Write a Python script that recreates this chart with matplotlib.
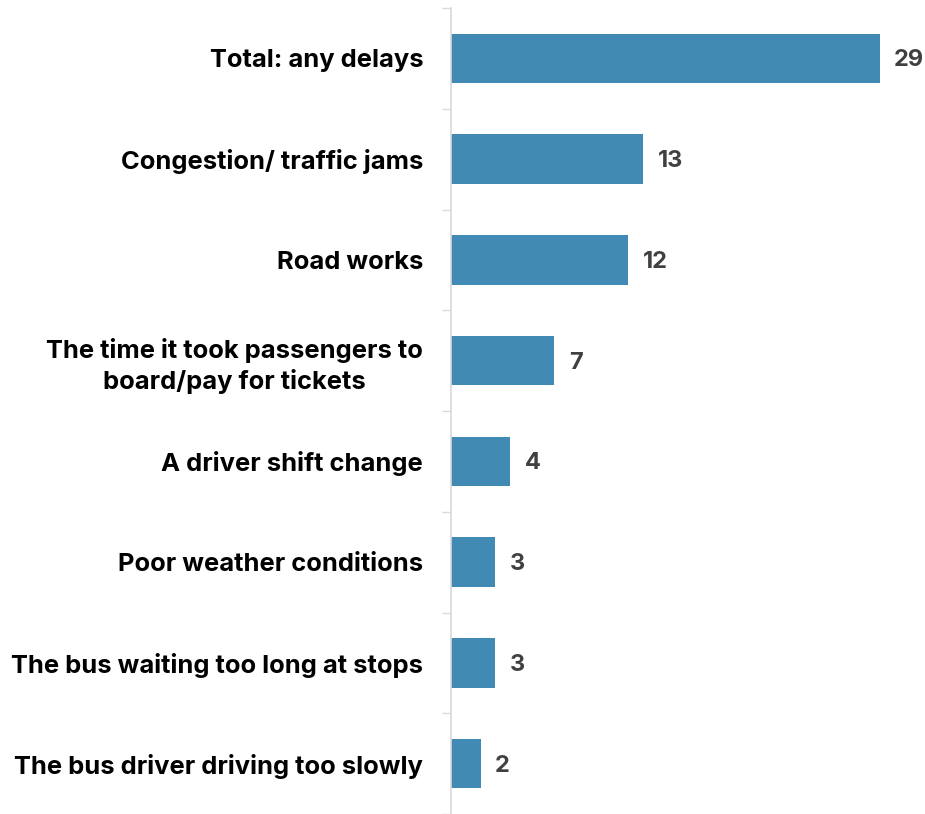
import matplotlib
matplotlib.use("Agg")
import matplotlib.pyplot as plt

categories = [
    "Total: any delays",
    "Congestion/ traffic jams",
    "Road works",
    "The time it took passengers to\nboard/pay for tickets",
    "A driver shift change",
    "Poor weather conditions",
    "The bus waiting too long at stops",
    "The bus driver driving too slowly",
]
values = [29, 13, 12, 7, 4, 3, 3, 2]

plt.rcParams["font.family"] = ["Inter", "DejaVu Sans"]

fig = plt.figure(figsize=(9.25, 8.14), dpi=100)
ax = fig.add_axes([451 / 925, 0.0, 473 / 925, 1 - 8 / 814])

bar_color = "#418AB3"
grid_color = "#D9D9D9"
n = len(categories)
ypos = list(range(n))
ax.barh(ypos, values, height=0.49, color=bar_color, zorder=2)
ax.set_ylim(n - 0.5, -0.5)
ax.set_xlim(0, 32)

for y, v in zip(ypos, values):
    ax.annotate(str(v), xy=(v, y), xytext=(10.5, -1.5), textcoords="offset points",
                ha="left", va="center", fontsize=17, fontweight="bold",
                color="#404040")

# category labels placed at bar centres, ticks at the category boundaries
ax.set_yticks(ypos)
ax.set_yticklabels(categories, fontsize=18.4, fontweight="bold", color="black",
                   multialignment="center", linespacing=1.3)
ax.tick_params(axis="y", which="major", length=0, pad=20)
ax.set_yticks([i - 0.5 for i in range(n + 1)], minor=True)
ax.tick_params(axis="y", which="minor", length=6.5, width=1, color=grid_color)
ax.set_xticks([])

for side in ["top", "right", "bottom"]:
    ax.spines[side].set_visible(False)
ax.spines["left"].set_color(grid_color)
ax.spines["left"].set_linewidth(1.2)

fig.savefig("out.png", dpi=100)
